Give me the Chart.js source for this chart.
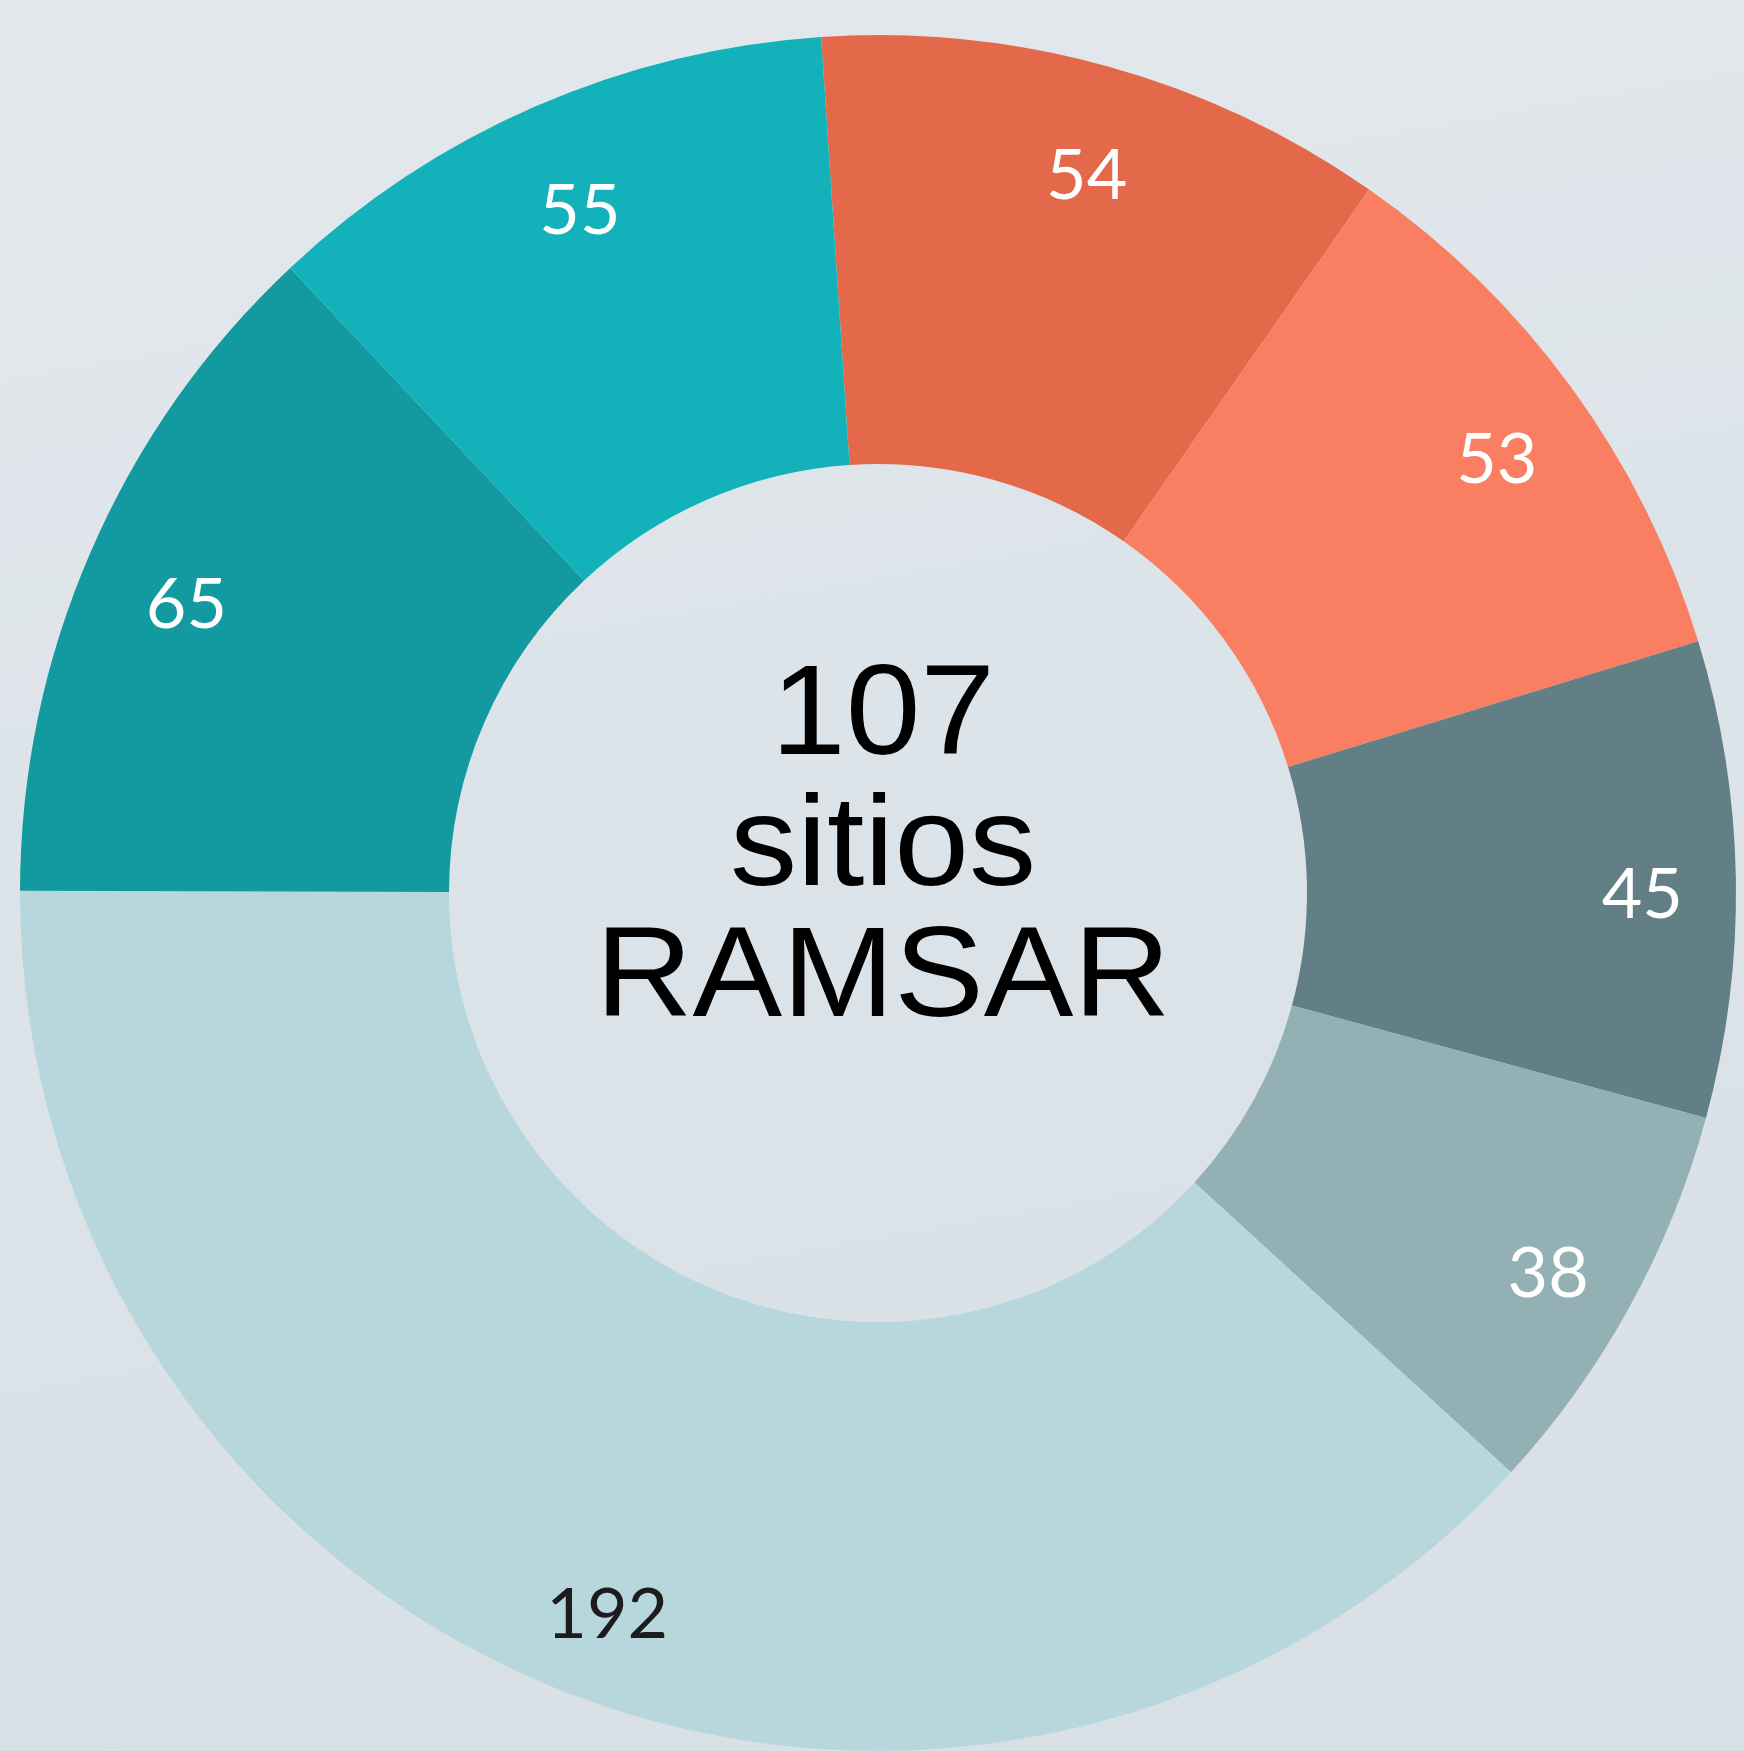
<!DOCTYPE html>
<html>
<head>
<meta charset="utf-8">
<script src="https://cdn.jsdelivr.net/npm/chart.js@4/dist/chart.umd.min.js"></script>
<style>
  html, body {
    margin: 0;
    padding: 0;
    overflow: hidden;
  }
  body {
    width: 1744px;
    height: 1751px;
    background: linear-gradient(170deg, #e3e8ec 0%, #dde4e9 40%, #d8dfe5 100%);
  }
  #wrap {
    position: relative;
    width: 1744px;
    height: 1751px;
  }
</style>
</head>
<body>
<div id="wrap"><canvas id="donut"></canvas></div>
<script>
// datos
const categorias = ["Grupo 1", "Grupo 2", "Grupo 3", "Grupo 4", "Grupo 5", "Grupo 6", "Grupo 7"]
const valores = [54, 53, 45, 38, 192, 65, 55]
const colores = ["#e4694b", "#fa7e61", "#627f86", "#93b0b5", "#b8d7dc", "#139aa0", "#13b1b9"]
const coloresTexto = ["#ffffff", "#ffffff", "#ffffff", "#ffffff", "#1c1c1c", "#ffffff", "#ffffff"]
const textoCentro = ["107", "sitios", "RAMSAR"]

// etiquetas de valor dentro de cada segmento
const etiquetasPlugin = {
  id: "etiquetas",
  afterDatasetsDraw(chart) {
    const c = chart.ctx
    const meta = chart.getDatasetMeta(0)
    c.save()
    c.font = "70px Lato"
    c.textAlign = "center"
    c.textBaseline = "middle"
    meta.data.forEach((arc, i) => {
      const p = arc.getProps(["x", "y", "startAngle", "endAngle", "innerRadius", "outerRadius"], true)
      const a = (p.startAngle + p.endAngle) / 2
      const r = p.innerRadius + 0.77 * (p.outerRadius - p.innerRadius)
      c.fillStyle = coloresTexto[i]
      c.fillText(String(valores[i]), p.x + 5 + Math.cos(a) * r, p.y + 15 + Math.sin(a) * r)
    })
    c.restore()
  },
}

// texto del centro
const centroPlugin = {
  id: "centro",
  afterDraw(chart) {
    const c = chart.ctx
    const arc = chart.getDatasetMeta(0).data[0]
    const cx = arc.x
    const cy = arc.y
    c.save()
    c.translate(cx + 5, cy)
    c.scale(1.05, 1)
    c.font = "128px 'Liberation Sans', Arial, sans-serif"
    c.fillStyle = "#000000"
    c.textAlign = "center"
    c.textBaseline = "alphabetic"
    textoCentro.forEach((t, i) => {
      c.fillText(t, 0, -139 + i * 131)
    })
    c.restore()
  },
}

const ctx = document.getElementById("donut")

const donut = new Chart(ctx, {
  type: "doughnut",
  data: {
    labels: categorias,
    datasets: [
      {
        data: valores,
        backgroundColor: colores,
        borderWidth: 0,
        hoverOffset: 0,
      },
    ],
  },
  options: {
    responsive: true,
    maintainAspectRatio: false,
    animation: false,
    cutout: "50%",
    rotation: -3.8,
    layout: {
      padding: { left: 20, right: 8, top: 35, bottom: 0 },
    },
    plugins: {
      legend: { display: false },
      tooltip: { enabled: false },
    },
  },
  plugins: [etiquetasPlugin, centroPlugin],
})
</script>
</body>
</html>
